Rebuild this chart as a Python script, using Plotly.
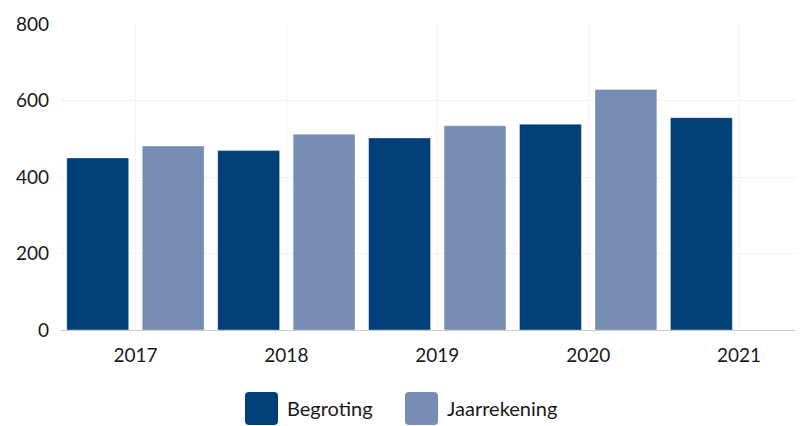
import plotly.graph_objects as go

years = ["2017", "2018", "2019", "2020", "2021"]
begroting = [450, 469, 502, 538, 555]
jaarrekening = [481, 512, 534, 629, None]
y_ticks = [0, 200, 400, 600, 800]

DARK = "#003f78"
LIGHT = "#778db3"
FONT = "Lato"

# page has an 8px body margin, so the figure is drawn at (8, 8)
OFF = 8
W, H = 804 - OFF, 426 - OFF
PLOT_L, PLOT_T, PLOT_W, PLOT_H = 60, 24, 744, 306   # in screen pixels
L = PLOT_L - OFF
T = PLOT_T - OFF
R = W - L - PLOT_W
B = H - T - PLOT_H

def px(x):
    return (x - PLOT_L) / PLOT_W

def py(y):
    return (PLOT_T + PLOT_H - y) / PLOT_H

fig = go.Figure()
fig.add_trace(go.Bar(name="Begroting", x=years, y=begroting,
                     marker=dict(color=DARK, line=dict(width=1, color="rgba(255,255,255,0.35)")),
                     showlegend=False))
fig.add_trace(go.Bar(name="Jaarrekening", x=years, y=jaarrekening,
                     marker=dict(color=LIGHT, line=dict(width=1, color="rgba(255,255,255,0.35)")),
                     showlegend=False))

def rounded_square(x0, y0, x1, y1, r):
    X = lambda v: f"{px(v):.5f}"
    Y = lambda v: f"{py(v):.5f}"
    return (f"M{X(x0+r)},{Y(y0)} L{X(x1-r)},{Y(y0)} Q{X(x1)},{Y(y0)} {X(x1)},{Y(y0+r)} "
            f"L{X(x1)},{Y(y1-r)} Q{X(x1)},{Y(y1)} {X(x1-r)},{Y(y1)} "
            f"L{X(x0+r)},{Y(y1)} Q{X(x0)},{Y(y1)} {X(x0)},{Y(y1-r)} "
            f"L{X(x0)},{Y(y0+r)} Q{X(x0)},{Y(y0)} {X(x0+r)},{Y(y0)} Z")

legend_items = [("Begroting", DARK, 245, 285), ("Jaarrekening", LIGHT, 405, 445)]
shapes = []
annotations = []
for name, col, sx, tx in legend_items:
    shapes.append(dict(type="path", xref="paper", yref="paper",
                       path=rounded_square(sx, 392, sx + 33, 425, 4),
                       fillcolor=col, line=dict(width=0)))
    annotations.append(dict(text=name, xref="paper", yref="paper", x=px(tx), y=py(408),
                            xanchor="left", yanchor="middle", showarrow=False,
                            font=dict(family=FONT, size=20, color="#1a1a1a")))

fig.update_layout(
    width=W, height=H,
    margin=dict(l=L, r=R, t=T, b=B, pad=0),
    paper_bgcolor="white", plot_bgcolor="white",
    barmode="group", bargap=0, bargroupgap=0.18,
    font=dict(family=FONT, size=19, color="#1a1a1a"),
    shapes=shapes, annotations=annotations,
    xaxis=dict(type="category", range=[-0.5, 4.43], showgrid=True, gridcolor="#f3f3f3",
               gridwidth=1, showline=True, linecolor="#cccccc", linewidth=1,
               ticks="", ticklabelstandoff=8, tickfont=dict(family=FONT, size=19, color="#1a1a1a"),
               zeroline=False),
    yaxis=dict(range=[0, 800], tickvals=y_ticks, showgrid=True, gridcolor="#f3f3f3",
               gridwidth=1, zeroline=False, showline=False, ticks="",
               ticklabelstandoff=10, tickfont=dict(family=FONT, size=19, color="#1a1a1a")),
)

fig.write_html("out.html")
